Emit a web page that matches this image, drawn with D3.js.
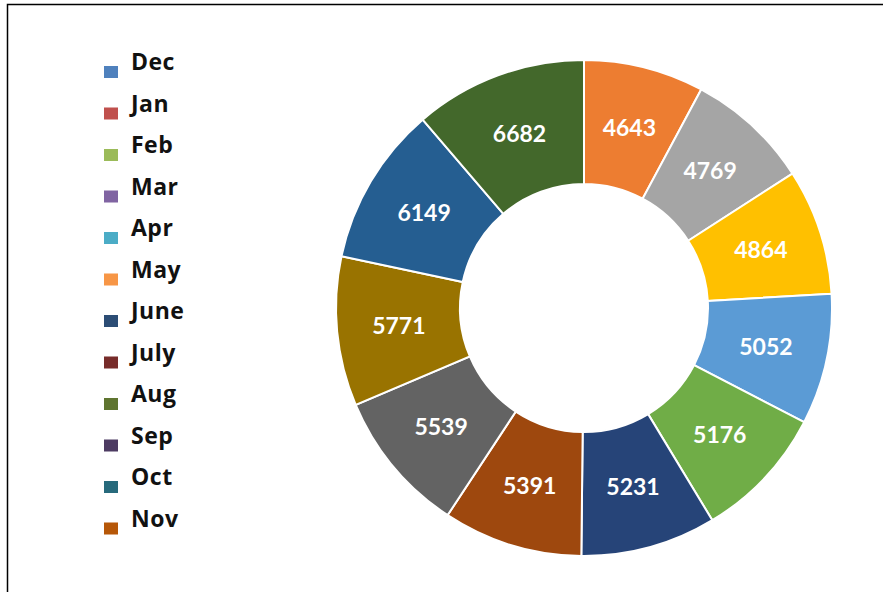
<!DOCTYPE html>
<html>
<head>
<meta charset="utf-8">
<script src="https://cdn.jsdelivr.net/npm/d3@7"></script>
<style>
  body { margin: 0; background: #fff; }
  svg { display: block; }
</style>
</head>
<body>
<div id="chart"></div>
<script>
// months shown in legend, with the legend swatch colours
const months = ['Dec', 'Jan', 'Feb', 'Mar', 'Apr', 'May', 'June', 'July', 'Aug', 'Sep', 'Oct', 'Nov'];
const legendColors = ['#4f81bd', '#c0504d', '#9bbb59', '#8064a2', '#4bacc6', '#f79646',
                      '#2c4d75', '#772c2a', '#5f7530', '#4d3b62', '#276a7c', '#b65708'];
// slice values (Dec is empty), and the slice colours
const values = [0, 4643, 4769, 4864, 5052, 5176, 5231, 5391, 5539, 5771, 6149, 6682];
const sliceColors = ['#4472c4', '#ed7d31', '#a5a5a5', '#ffc000', '#5b9bd5', '#70ad47',
                     '#264478', '#9e480e', '#636363', '#997300', '#255e91', '#43682b'];

const width = 883, height = 592;
const cx = 584, cy = 308;
const outerR = 248, innerR = 124;

const svg = d3.select('#chart')
  .append('svg')
    .attr('width', width)
    .attr('height', height);

// frame
svg.append('rect')
  .attr('x', 7.5)
  .attr('y', 4.5)
  .attr('width', width)
  .attr('height', height)
  .attr('fill', 'none')
  .attr('stroke', '#000')
  .attr('stroke-width', 1.5);

const data = months.map((m, i) => ({ month: m, value: values[i], color: sliceColors[i] }));

const pie = d3.pie()
  .sort(null)
  .value(d => d.value);

const arc = d3.arc()
  .innerRadius(innerR)
  .outerRadius(outerR);

const g = svg.append('g')
  .attr('transform', `translate(${cx},${cy})`);

const arcs = pie(data).filter(d => d.data.value > 0);

g.selectAll('path')
  .data(arcs)
  .enter()
  .append('path')
    .attr('d', arc)
    .attr('fill', d => d.data.color)
    .attr('stroke', '#fff')
    .attr('stroke-width', 2);

g.selectAll('text')
  .data(arcs)
  .enter()
  .append('text')
    .attr('transform', d => `translate(${arc.centroid(d)})`)
    .attr('text-anchor', 'middle')
    .attr('dy', '0.35em')
    .style('font-family', 'Lato, "Open Sans", sans-serif')
    .style('font-weight', 'bold')
    .style('font-size', '23px')
    .attr('fill', '#fff')
    .text(d => d.data.value);

// legend
const legend = svg.append('g')
  .attr('transform', 'translate(104,62)');

const rows = legend.selectAll('g')
  .data(months)
  .enter()
  .append('g')
    .attr('transform', (d, i) => `translate(0,${i * 41.5})`);

rows.append('rect')
  .attr('x', 0)
  .attr('y', 4)
  .attr('width', 14)
  .attr('height', 12)
  .attr('fill', (d, i) => legendColors[i]);

rows.append('text')
  .attr('x', 27)
  .attr('y', 8)
  .style('font-family', '"Open Sans", Lato, sans-serif')
  .style('font-weight', 'bold')
  .style('font-size', '23px')
  .style('letter-spacing', '0.5px')
  .attr('fill', '#111')
  .text(d => d);
</script>
</body>
</html>
